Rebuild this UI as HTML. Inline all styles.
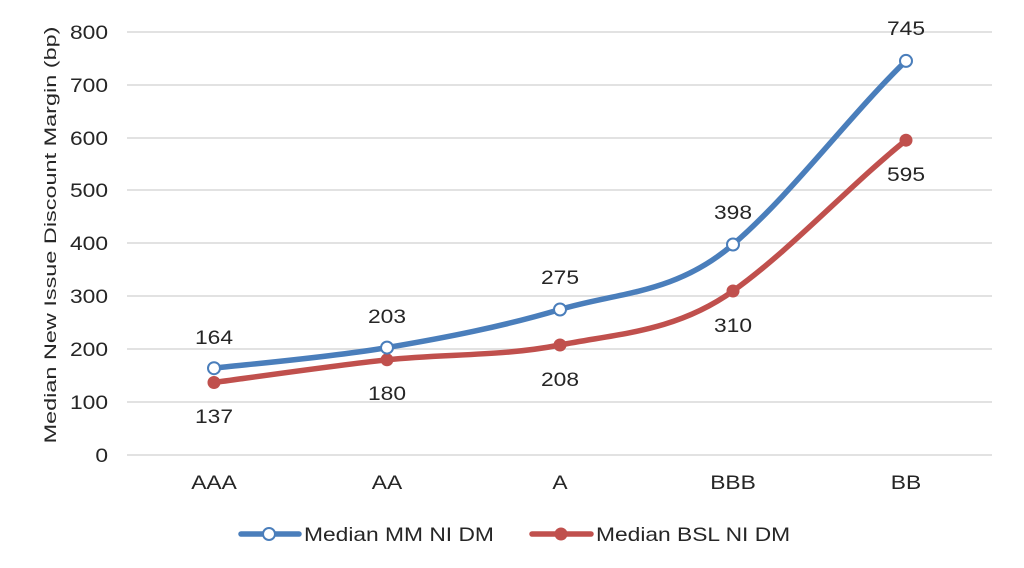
<!DOCTYPE html>
<html><head><meta charset="utf-8"><style>
html,body{margin:0;padding:0;background:#fff;}
svg{display:block;font-family:"Liberation Sans",Arial,sans-serif;}
</style></head><body>
<svg width="1024" height="568" viewBox="0 0 1024 568" xmlns="http://www.w3.org/2000/svg">
<rect width="1024" height="568" fill="#fff"/>
<g stroke="#d9d9d9" stroke-width="1.5">
<line x1="127" x2="992" y1="32" y2="32"/>
<line x1="127" x2="992" y1="85" y2="85"/>
<line x1="127" x2="992" y1="138" y2="138"/>
<line x1="127" x2="992" y1="190" y2="190"/>
<line x1="127" x2="992" y1="243" y2="243"/>
<line x1="127" x2="992" y1="296" y2="296"/>
<line x1="127" x2="992" y1="349" y2="349"/>
<line x1="127" x2="992" y1="402" y2="402"/>
<line x1="127" x2="992" y1="455" y2="455"/>
</g>
<g font-size="19" fill="#262626" text-anchor="end">
<text transform="translate(108,39) scale(1.2,1)">800</text>
<text transform="translate(108,92) scale(1.2,1)">700</text>
<text transform="translate(108,145) scale(1.2,1)">600</text>
<text transform="translate(108,197) scale(1.2,1)">500</text>
<text transform="translate(108,250) scale(1.2,1)">400</text>
<text transform="translate(108,303) scale(1.2,1)">300</text>
<text transform="translate(108,356) scale(1.2,1)">200</text>
<text transform="translate(108,409) scale(1.2,1)">100</text>
<text transform="translate(108,462) scale(1.2,1)">0</text>
</g>
<g font-size="19" fill="#262626" text-anchor="middle">
<text transform="translate(214,489) scale(1.2,1)">AAA</text>
<text transform="translate(387,489) scale(1.2,1)">AA</text>
<text transform="translate(560,489) scale(1.2,1)">A</text>
<text transform="translate(733,489) scale(1.2,1)">BBB</text>
<text transform="translate(906,489) scale(1.2,1)">BB</text>
</g>
<text transform="translate(56,235) rotate(-90) scale(1.38,1)" font-size="17" fill="#262626" text-anchor="middle">Median New Issue Discount Margin (bp)</text>
<path d="M214,382.5 C242.8,378.7 329.3,366.1 387,359.8 C444.7,353.6 502.3,356.5 560,345 C617.7,333.5 675.3,332 733,291 C790.7,250 850,185 906,140.2" fill="none" stroke="#C0504D" stroke-width="5.5" stroke-linecap="round"/>
<path d="M214,368.2 C242.8,364.8 329.3,357.4 387,347.6 C444.7,337.8 502.3,326.7 560,309.5 C617.7,292.3 675.3,294 733,244.5 C790.7,195 850,115 906,60.9" fill="none" stroke="#4A7EBB" stroke-width="5.5" stroke-linecap="round"/>
<g fill="#C0504D">
<circle cx="214" cy="382.5" r="6.5"/><circle cx="387" cy="359.8" r="6.5"/><circle cx="560" cy="345" r="6.5"/><circle cx="733" cy="291" r="6.5"/><circle cx="906" cy="140.2" r="6.5"/>
</g>
<g fill="#fff" stroke="#4A7EBB" stroke-width="2">
<circle cx="214" cy="368.2" r="6"/><circle cx="387" cy="347.6" r="6"/><circle cx="560" cy="309.5" r="6"/><circle cx="733" cy="244.5" r="6"/><circle cx="906" cy="60.9" r="6"/>
</g>
<g font-size="19" fill="#262626" text-anchor="middle">
<text transform="translate(214,344) scale(1.2,1)">164</text>
<text transform="translate(387,323) scale(1.2,1)">203</text>
<text transform="translate(560,284) scale(1.2,1)">275</text>
<text transform="translate(733,219) scale(1.2,1)">398</text>
<text transform="translate(906,35) scale(1.2,1)">745</text>
<text transform="translate(214,423) scale(1.2,1)">137</text>
<text transform="translate(387,400) scale(1.2,1)">180</text>
<text transform="translate(560,386) scale(1.2,1)">208</text>
<text transform="translate(733,332) scale(1.2,1)">310</text>
<text transform="translate(906,181) scale(1.2,1)">595</text>
</g>
<line x1="241" x2="299" y1="534" y2="534" stroke="#4A7EBB" stroke-width="5.5" stroke-linecap="round"/>
<circle cx="269" cy="534" r="6" fill="#fff" stroke="#4A7EBB" stroke-width="2"/>
<text transform="translate(304,541) scale(1.2,1)" font-size="19" fill="#262626">Median MM NI DM</text>
<line x1="532" x2="591" y1="534" y2="534" stroke="#C0504D" stroke-width="5.5" stroke-linecap="round"/>
<circle cx="561" cy="534" r="6.5" fill="#C0504D"/>
<text transform="translate(596,541) scale(1.2,1)" font-size="19" fill="#262626">Median BSL NI DM</text>
</svg>
</body></html>
